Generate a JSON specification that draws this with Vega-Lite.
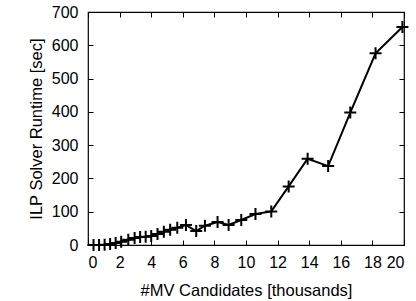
{
  "$schema": "https://vega.github.io/schema/vega-lite/v6.json",
  "width": 316,
  "height": 233,
  "autosize": {"type": "none"},
  "padding": {"left": 88, "top": 12, "right": 12, "bottom": 56},
  "background": "white",
  "config": {
    "view": {"stroke": "black", "strokeWidth": 1.2},
    "font": "Liberation Sans",
    "axis": {
      "grid": false,
      "domain": false,
      "tickColor": "black",
      "tickSize": -5,
      "tickWidth": 1,
      "labelFont": "Liberation Sans",
      "labelFontSize": 16,
      "labelColor": "black",
      "titleFont": "Liberation Sans",
      "titleFontSize": 16.5,
      "titleFontWeight": "normal",
      "titleColor": "black"
    }
  },
  "data": {
    "values": [
      {"k": 0.35, "t": 0}, {"k": 0.7, "t": 0}, {"k": 1.05, "t": 1}, {"k": 1.4, "t": 3},
      {"k": 1.75, "t": 6}, {"k": 2.1, "t": 10}, {"k": 2.55, "t": 16}, {"k": 2.95, "t": 21},
      {"k": 3.3, "t": 24}, {"k": 3.65, "t": 25}, {"k": 4.0, "t": 27}, {"k": 4.4, "t": 33},
      {"k": 4.8, "t": 40}, {"k": 5.2, "t": 46}, {"k": 5.65, "t": 52}, {"k": 6.2, "t": 60},
      {"k": 6.85, "t": 42}, {"k": 7.4, "t": 58}, {"k": 8.2, "t": 69},
      {"k": 8.9, "t": 60}, {"k": 9.7, "t": 75}, {"k": 10.6, "t": 93}, {"k": 11.6, "t": 101},
      {"k": 12.7, "t": 176}, {"k": 13.9, "t": 259}, {"k": 15.2, "t": 237}, {"k": 16.6, "t": 398},
      {"k": 18.2, "t": 576}, {"k": 19.9, "t": 655}
    ]
  },
  "layer": [
    {
      "mark": {"type": "line", "color": "black", "strokeWidth": 2},
      "encoding": {
        "x": {"field": "k", "type": "quantitative", "scale": {"domain": [0, 20], "nice": false},
              "axis": {"title": "#MV Candidates [thousands]", "values": [0,2,4,6,8,10,12,14,16,18,20], "labelPadding": 14, "titlePadding": 12}},
        "y": {"field": "t", "type": "quantitative", "scale": {"domain": [0, 700], "nice": false},
              "axis": {"title": "ILP Solver Runtime [sec]", "values": [0,100,200,300,400,500,600,700], "labelPadding": 15, "titlePadding": 7}}
      }
    },
    {
      "mark": {"type": "point", "shape": "M-1,0H1M0,-1V1", "filled": false, "color": "black", "strokeWidth": 2, "size": 144, "opacity": 1},
      "encoding": {
        "x": {"field": "k", "type": "quantitative",
              "axis": {"orient": "top", "labels": false, "title": null, "values": [0,2,4,6,8,10,12,14,16,18,20]}},
        "y": {"field": "t", "type": "quantitative",
              "axis": {"orient": "right", "labels": false, "title": null, "values": [0,100,200,300,400,500,600,700]}}
      }
    }
  ],
  "resolve": {"axis": {"x": "independent", "y": "independent"}}
}
